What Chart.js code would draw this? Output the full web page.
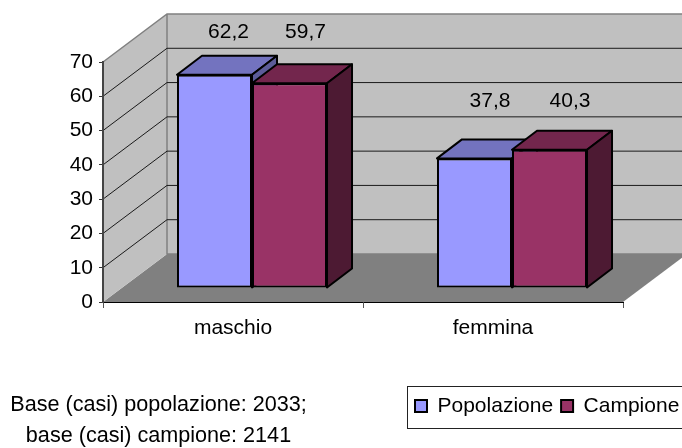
<!DOCTYPE html>
<html><head><meta charset="utf-8">
<style>html,body{margin:0;padding:0;background:#fff}canvas{display:block}</style>
<script src="https://cdn.jsdelivr.net/npm/chart.js@4"></script>
</head><body>
<canvas id="c" width="682" height="448"></canvas>
<script>
const categories = ['maschio', 'femmina'];
const popolazione = [62.2, 37.8];
const campione = [59.7, 40.3];
const yTicks = [0, 10, 20, 30, 40, 50, 60, 70];
const noteLines = ['Base (casi) popolazione: 2033;', 'base (casi) campione: 2141'];
const decimalLabel = v => v.toFixed(1).replace('.', ',');

const FONT = '"Liberation Sans", Arial, sans-serif';
const FS = 21;
const WALL_D = {x: 64, y: -48};       // depth of the box
const BAR_OFF = {x: 19, y: -14};      // bar front face offset from axis plane
const BAR_D = {x: 25, y: -19};        // bar depth
const shade = [
  {front: '#9999ff', top: '#7373bf', side: '#5c5c99'},
  {front: '#993366', top: '#73264d', side: '#4d1a33'}
];
// label anchors: horizontal offset from bar centre and height on the value axis, [series][category]
const labelDX = [[14, 15.5], [16, 20.5]];
const labelValueY = [[78.8, 58.6], [78.8, 58.6]];

function poly(ctx, pts, fill, stroke, lw) {
  ctx.beginPath();
  pts.forEach((p, i) => i ? ctx.lineTo(p[0], p[1]) : ctx.moveTo(p[0], p[1]));
  ctx.closePath();
  if (fill) { ctx.fillStyle = fill; ctx.fill(); }
  if (stroke) { ctx.strokeStyle = stroke; ctx.lineWidth = lw; ctx.lineJoin = 'round'; ctx.stroke(); }
}

const box3d = {
  id: 'box3d',
  beforeLayout(chart) {
    const l = chart.legend;
    if (!l._fitPatched) {
      const fit = l.fit;
      l.fit = function () { fit.call(this); this.height = 0; this.width = 0; };
      l._fitPatched = true;
    }
  },
  afterLayout(chart) {
    const l = chart.legend, pad = l.options.labels.padding;
    l.left = 415 - pad; l.right = 800; l.top = 395.5 - pad; l.bottom = 448;
  },
  beforeDraw(chart) {
    const {ctx, scales: {x, y}} = chart;
    const L = x.left, R = x.right, B = y.getPixelForValue(0), T = y.getPixelForValue(70);
    const dx = WALL_D.x, dy = WALL_D.y;
    ctx.save();
    poly(ctx, [[L, B], [L + dx, B + dy], [R + dx, B + dy], [R, B]], '#808080');
    poly(ctx, [[L, B], [L + dx, B + dy], [L + dx, T + dy], [L, T]], '#c0c0c0');
    poly(ctx, [[L + dx, T + dy], [R + dx, T + dy], [R + dx, B + dy], [L + dx, B + dy]], '#c0c0c0');
    ctx.strokeStyle = '#808080'; ctx.lineWidth = 1.5;
    ctx.beginPath();
    ctx.moveTo(L, T); ctx.lineTo(L + dx, T + dy); ctx.lineTo(R + dx, T + dy);
    ctx.moveTo(L + dx, T + dy); ctx.lineTo(L + dx, B + dy); ctx.lineTo(R + dx, B + dy);
    ctx.stroke();
    ctx.strokeStyle = '#1a1a1a'; ctx.lineWidth = 1;
    ctx.beginPath();
    yTicks.filter(v => v > 0 && v < 70).forEach(v => {
      const p = y.getPixelForValue(v);
      ctx.moveTo(L, p); ctx.lineTo(L + dx, p + dy); ctx.lineTo(R + dx, p + dy);
    });
    ctx.stroke();
    // legend frame
    ctx.strokeStyle = '#222'; ctx.lineWidth = 1;
    ctx.strokeRect(407.5, 386.5, 300, 42);
    // note
    ctx.fillStyle = '#000'; ctx.font = '21.6px ' + FONT;
    ctx.textAlign = 'center'; ctx.textBaseline = 'middle';
    ctx.fillText(noteLines[0], 158.5, 405);
    ctx.fillText(noteLines[1], 158.5, 436);
    ctx.restore();
  },
  // Left series first, so the right-hand bar's faces overlap it as in a 3-D column chart.
  beforeDatasetsDraw(chart) {
    const {ctx, scales: {y}} = chart;
    [0, 1].forEach(i => {
      const meta = chart.getDatasetMeta(i), s = shade[i];
      ctx.save();
      meta.data.forEach(el => {
        const {x, y: vy, base, width} = el.getProps(['x', 'y', 'base', 'width'], true);
        const l = x - width / 2 + BAR_OFF.x, r = x + width / 2 + BAR_OFF.x;
        const t = vy + BAR_OFF.y, b = base + BAR_OFF.y;
        poly(ctx, [[l, t], [l + BAR_D.x, t + BAR_D.y], [r + BAR_D.x, t + BAR_D.y], [r, t]], s.top, '#000', 2);
        poly(ctx, [[r, t], [r + BAR_D.x, t + BAR_D.y], [r + BAR_D.x, b + BAR_D.y], [r, b]], s.side, '#000', 2);
      });
      ctx.translate(BAR_OFF.x, BAR_OFF.y);
      meta.controller.draw();
      ctx.restore();
    });
    ctx.save();
    ctx.fillStyle = '#000'; ctx.font = FS + 'px ' + FONT;
    ctx.textAlign = 'center'; ctx.textBaseline = 'middle';
    chart.data.datasets.forEach((ds, i) => {
      chart.getDatasetMeta(i).data.forEach((el, j) => {
        ctx.fillText(decimalLabel(ds.data[j]), el.x + BAR_OFF.x + labelDX[i][j], y.getPixelForValue(labelValueY[i][j]));
      });
    });
    ctx.restore();
    return false;
  }
};

new Chart(document.getElementById('c'), {
  type: 'bar',
  data: {
    labels: categories,
    datasets: [
      {label: 'Popolazione', data: popolazione, backgroundColor: shade[0].front, borderColor: '#000', borderWidth: 2, borderSkipped: false},
      {label: 'Campione', data: campione, backgroundColor: shade[1].front, borderColor: '#000', borderWidth: 2, borderSkipped: false}
    ]
  },
  options: {
    responsive: false,
    animation: false,
    devicePixelRatio: 1,
    layout: {autoPadding: false, padding: {left: 0, top: 62, right: 59, bottom: 0}},
    font: {family: FONT, size: FS},
    plugins: {
      title: {display: false},
      tooltip: {enabled: false},
      legend: {
        position: 'bottom', align: 'start',
        labels: {boxWidth: 12, boxHeight: 12, padding: 8, color: '#000', font: {family: FONT, size: FS}}
      }
    },
    datasets: {bar: {categoryPercentage: 0.577, barPercentage: 1}},
    scales: {
      x: {
        offset: true,
        afterFit(s) { s.height = 146; },
        grid: {display: true, drawOnChartArea: false, drawTicks: true, tickLength: 6, offset: true, color: '#555'},
        border: {display: true, color: '#000', width: 1},
        ticks: {color: '#000', padding: 8, font: {family: FONT, size: FS}, maxRotation: 0}
      },
      y: {
        min: 0, max: 70,
        afterFit(s) { s.width = 103; },
        grid: {display: true, drawOnChartArea: false, drawTicks: true, tickLength: 4, color: '#333'},
        border: {display: true, color: '#444', width: 2},
        ticks: {stepSize: 10, color: '#000', padding: 6, font: {family: FONT, size: FS}}
      }
    }
  },
  plugins: [box3d]
});
</script>
</body></html>
